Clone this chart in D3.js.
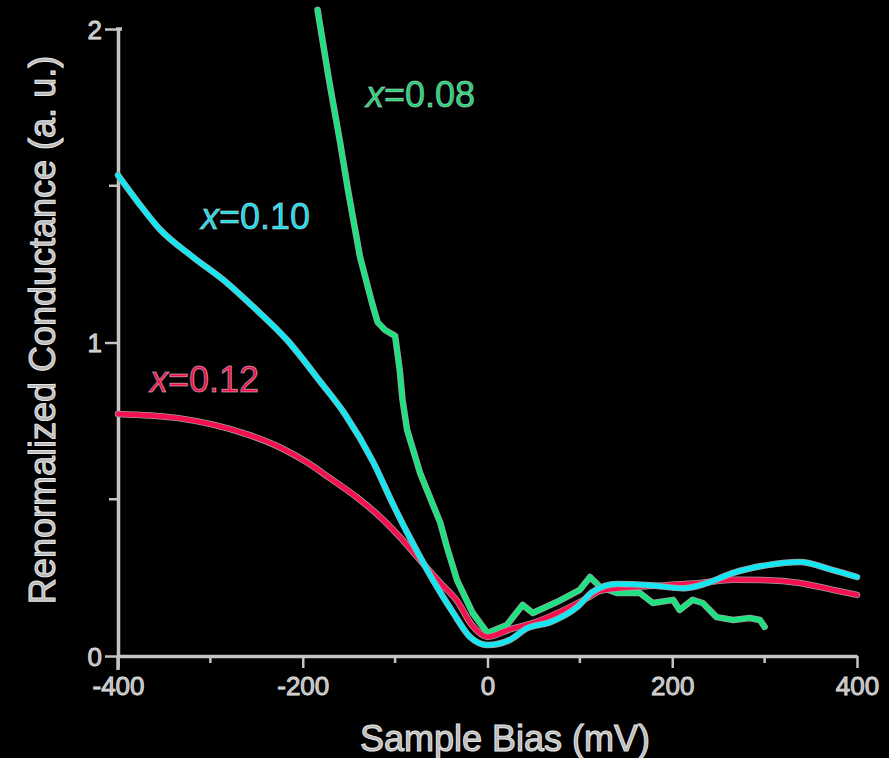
<!DOCTYPE html>
<html><head><meta charset="utf-8">
<script src="https://cdn.jsdelivr.net/npm/d3@7/dist/d3.min.js"></script>
<style>html,body{margin:0;padding:0;background:#000;}svg{display:block;}</style>
</head><body>
<script>
// Data: [bias mV, renormalized conductance]
const biasRed  = [-400,-365,-333,-297,-260,-225,-195,-171,-141,-116,-95,-76,-51,-33,-16,0,24,49,78,108,122,158,194,230,266,303,338,374,400];
const condRed  = [0.772,0.767,0.758,0.738,0.707,0.666,0.617,0.568,0.505,0.443,0.380,0.316,0.233,0.176,0.095,0.061,0.085,0.105,0.140,0.185,0.208,0.220,0.226,0.233,0.243,0.242,0.233,0.211,0.195];
const biasCyan = [-400,-379,-355,-319,-282,-254,-217,-181,-154,-124,-102,-81,-59,-37,-19,0,24,43,68,97,114,140,176,212,238,266,303,338,374,400];
const condCyan = [1.534,1.450,1.362,1.273,1.190,1.115,1.008,0.875,0.770,0.620,0.482,0.360,0.242,0.137,0.061,0.035,0.051,0.089,0.108,0.156,0.205,0.230,0.226,0.216,0.233,0.265,0.290,0.300,0.274,0.252];
const biasGreen = [-184,-171,-160,-151,-138,-125,-119,-111,-100,-95,-92,-87,-73,-51,-44,-33,-16,0,21,38,49,75,100,111,122,140,165,179,201,208,222,233,248,266,284,295,300];
const condGreen = [2.061,1.828,1.646,1.486,1.273,1.126,1.065,1.040,1.021,0.912,0.817,0.721,0.584,0.424,0.348,0.242,0.137,0.073,0.099,0.163,0.137,0.172,0.211,0.252,0.220,0.201,0.201,0.169,0.179,0.147,0.179,0.169,0.124,0.115,0.121,0.115,0.093];
const seriesNames = ["x=0.12","x=0.10","x=0.08"];
const xTicksMajor = [-400,-200,0,200,400];
const xTicksMinor = [-300,-100,100,300];
const yTicksMajor = [0,1,2];
const yTicksMinor = [0.5,1.5];
const xTitle = "Sample Bias (mV)";
const yTitle = "Renormalized Conductance (a. u.)";

const W = 889, H = 758;
const M = {left:118, right:32, top:29, bottom:102};
const x = d3.scaleLinear().domain([-400,400]).range([M.left, W - M.right]);
const y = d3.scaleLinear().domain([0,2]).range([H - M.bottom, M.top]);

const svg = d3.select("body").append("svg").attr("width",W).attr("height",H)
  .style("background","#000");
svg.append("rect").attr("width",W).attr("height",H).attr("fill","#000");

const axisCol = "#c4c4c4";
const font = "Arial, 'Liberation Sans', sans-serif";
const fmt = d => String(d);

// X axis
const gx = svg.append("g").attr("transform",`translate(0,${y(0)})`);
gx.call(d3.axisBottom(x).tickValues(xTicksMajor).tickSize(12).tickSizeOuter(0).tickFormat(fmt));
xTicksMinor.forEach(v=>{
  gx.append("line").attr("x1",x(v)).attr("x2",x(v)).attr("y1",0).attr("y2",7)
    .attr("stroke",axisCol).attr("stroke-width",2.5);
});
// Y axis
const gy = svg.append("g").attr("transform",`translate(${x(-400)},0)`);
gy.call(d3.axisLeft(y).tickValues(yTicksMajor).tickSize(13).tickSizeOuter(0).tickFormat(fmt));
yTicksMinor.forEach(v=>{
  gy.append("line").attr("x1",0).attr("x2",-9).attr("y1",y(v)).attr("y2",y(v))
    .attr("stroke",axisCol).attr("stroke-width",2.5);
});
gy.append("line").attr("x1",0).attr("x2",0).attr("y1",y(0)).attr("y2",y(0)+14)
  .attr("stroke",axisCol).attr("stroke-width",3.5);
gy.append("line").attr("x1",-2).attr("x2",4).attr("y1",y(2)).attr("y2",y(2))
  .attr("stroke",axisCol).attr("stroke-width",3.5);

[gx,gy].forEach(g=>{
  g.select(".domain").attr("stroke",axisCol).attr("stroke-width",3.5);
  g.selectAll(".tick line").attr("stroke",axisCol).attr("stroke-width",2.5);
  g.selectAll(".tick text").attr("fill","#b8b8b8").attr("stroke","#e6e6e6").attr("stroke-width",0.8)
    .style("font-family",font).style("font-size","26px");
});
gx.selectAll(".tick text").attr("dy","0.95em").attr("y",14);
gy.selectAll(".tick text").attr("x",-16).attr("dy","0.36em");

// Axis titles
svg.append("text").attr("x",505).attr("y",751).attr("text-anchor","middle")
  .style("font-family",font).style("font-size","36px")
  .attr("fill","#b8b8b8").attr("stroke","#e6e6e6").attr("stroke-width",1)
  .text(xTitle);
svg.append("text").attr("transform",`translate(55,330) rotate(-90)`).attr("text-anchor","middle")
  .style("font-family",font).style("font-size","36px")
  .attr("fill","#b8b8b8").attr("stroke","#e6e6e6").attr("stroke-width",1)
  .text(yTitle);

// Lines
const series = [
  {bias:biasRed, cond:condRed, color:"#f5104f", curve:d3.curveMonotoneX},
  {bias:biasCyan, cond:condCyan, color:"#14e6f2", curve:d3.curveMonotoneX},
  {bias:biasGreen, cond:condGreen, color:"#1de27f", curve:d3.curveLinear}
];
const order = [2,0,1];
order.forEach(i=>{
  const s = series[i];
  const pts = s.bias.map((b,k)=>[b,s.cond[k]]);
  const line = d3.line().x(d=>x(d[0])).y(d=>y(d[1])).curve(s.curve);
  svg.append("path").attr("d",line(pts)).attr("fill","none")
    .attr("stroke","#a0a0a0").attr("stroke-width",6.5).attr("stroke-linejoin","round").attr("stroke-linecap","round");
  svg.append("path").attr("d",line(pts)).attr("fill","none")
    .attr("stroke",s.color).attr("stroke-width",5).attr("stroke-linejoin","round").attr("stroke-linecap","round");
});

// Series labels
const labels = [
  {name:seriesNames[0], x:150, y:392, color:"#e8114c"},
  {name:seriesNames[1], x:201, y:229, color:"#14d8e6"},
  {name:seriesNames[2], x:366, y:107, color:"#18d070"}
];
labels.forEach(l=>{
  const t = svg.append("text").attr("x",l.x).attr("y",l.y)
    .style("font-family",font).style("font-size","36px")
    .attr("fill",l.color).attr("stroke","#ffffff").attr("stroke-opacity",0.45).attr("stroke-width",1);
  const [v, rest] = l.name.split("=");
  t.append("tspan").style("font-style","italic").text(v);
  t.append("tspan").text("=" + rest);
});
</script>
</body></html>
